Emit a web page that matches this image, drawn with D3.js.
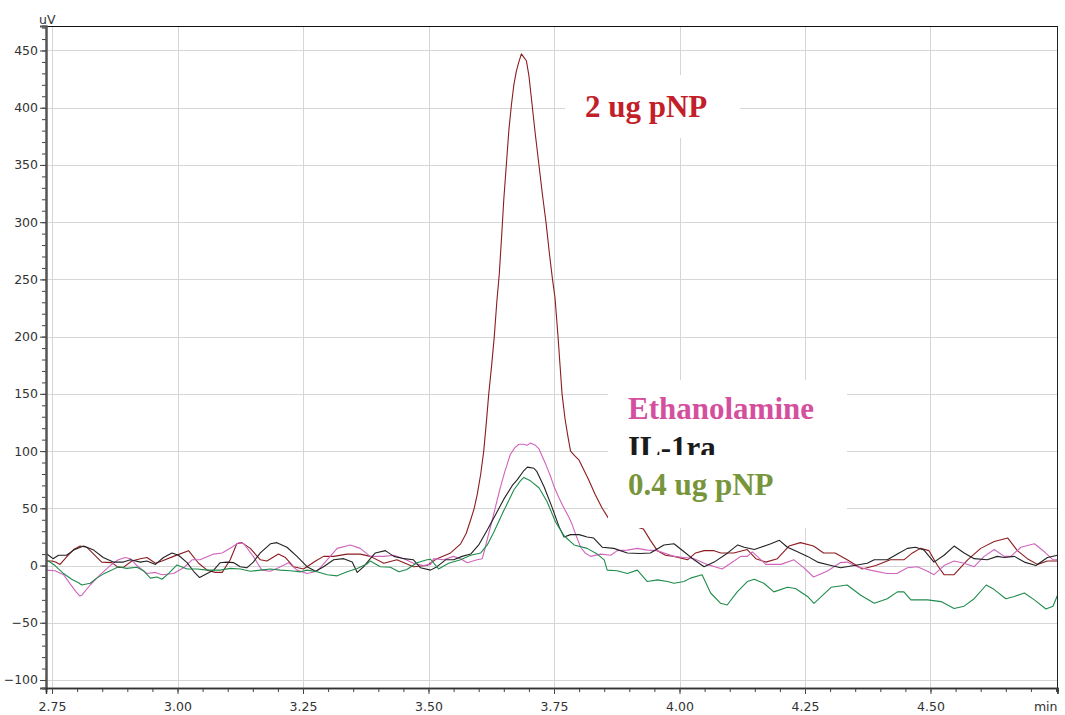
<!DOCTYPE html>
<html>
<head>
<meta charset="utf-8">
<script src="https://cdn.jsdelivr.net/npm/d3@7"></script>
<style>
  body { margin: 0; background: #fff; }
  svg text { font-family: "DejaVu Sans", Verdana, sans-serif; }
</style>
</head>
<body>
<svg id="chart" width="1065" height="715"></svg>
<script>
// Chromatogram traces: [retention time (min), detector signal (uV)]
const pnp2ug = [[2.738,4],[2.750,4],[2.757,3],[2.766,1],[2.780,8],[2.793,14],[2.806,17],[2.819,16],[2.833,10],[2.849,3],[2.869,2.5],[2.882,-1.6],[2.892,-1.6],[2.909,4],[2.926,6],[2.939,7],[2.956,2],[2.969,4],[2.992,8],[3.022,13],[3.042,2],[3.059,-4],[3.075,-6],[3.089,-6],[3.105,5],[3.118,19],[3.128,20],[3.145,15],[3.165,5],[3.178,4],[3.201,10],[3.215,7],[3.231,-1],[3.251,-3],[3.275,4],[3.291,8],[3.311,8],[3.338,10],[3.364,10],[3.384,8],[3.411,2],[3.437,5],[3.470,-1],[3.497,0],[3.517,6],[3.544,11],[3.564,19],[3.575,28],[3.584,40],[3.591,50],[3.597,62],[3.604,80],[3.610,100],[3.615,124],[3.620,150],[3.626,176],[3.631,200],[3.636,230],[3.641,255],[3.646,290],[3.650,320],[3.655,350],[3.660,380],[3.665,402],[3.670,420],[3.675,432],[3.680,440],[3.685,447],[3.690,444],[3.695,441],[3.700,428],[3.707,400],[3.713,376],[3.720,350],[3.727,324],[3.734,300],[3.741,272],[3.747,250],[3.752,234],[3.758,200],[3.762,175],[3.766,150],[3.772,128],[3.778,112],[3.783,100],[3.791,96],[3.800,92],[3.810,83],[3.819,75],[3.832,62],[3.846,50],[3.859,41],[3.880,37],[3.905,35],[3.928,32],[3.942,22],[3.956,13],[3.972,9],[3.989,8],[4.016,5],[4.032,11],[4.049,13],[4.069,13],[4.082,11],[4.108,11],[4.135,14],[4.152,6],[4.172,3],[4.195,6],[4.218,17],[4.241,20],[4.267,17],[4.287,11],[4.310,11],[4.334,5],[4.364,-3],[4.391,0],[4.420,5],[4.447,5],[4.464,11],[4.480,15],[4.497,13],[4.514,0],[4.527,-8],[4.547,-8],[4.574,5],[4.600,15],[4.627,21],[4.654,24],[4.673,13],[4.693,6],[4.713,1],[4.733,4],[4.753,4]];

const ethanolamine = [[2.738,-4],[2.756,-4.5],[2.773,-8],[2.786,-16],[2.798,-23],[2.805,-26.5],[2.809,-26],[2.826,-17],[2.846,-8],[2.866,0],[2.882,5],[2.896,7],[2.906,6],[2.919,0],[2.939,-7],[2.956,-6],[2.969,-8],[2.992,-7],[3.012,-2],[3.029,5],[3.045,5],[3.072,10],[3.089,11],[3.108,16],[3.122,20],[3.132,19],[3.151,8],[3.168,-4],[3.185,-5],[3.201,-2],[3.221,2.5],[3.238,-4],[3.258,-7],[3.278,-5],[3.298,5],[3.318,15],[3.344,18],[3.364,15],[3.384,8],[3.411,8],[3.431,9],[3.451,6],[3.470,2],[3.490,0],[3.504,1],[3.510,6],[3.530,5],[3.550,8],[3.564,6],[3.577,2.5],[3.597,5],[3.607,6],[3.612,14],[3.620,28],[3.627,40],[3.635,54],[3.643,68],[3.652,82],[3.663,97],[3.672,103],[3.680,106],[3.690,106],[3.696,105],[3.703,107],[3.713,105],[3.720,102],[3.733,89],[3.743,78],[3.750,69],[3.760,59],[3.770,50],[3.780,42],[3.786,36],[3.795,25],[3.803,16],[3.812,11],[3.823,8],[3.843,10],[3.863,9],[3.876,13],[3.896,13.5],[3.916,15],[3.936,13.5],[3.956,13],[3.989,8],[4.009,7],[4.029,6],[4.055,1],[4.085,-3],[4.102,2],[4.122,8],[4.135,8],[4.145,12],[4.155,8],[4.172,1],[4.202,1],[4.228,5],[4.248,-2],[4.267,-10],[4.294,-5],[4.320,2.5],[4.334,3],[4.354,-1],[4.380,-4],[4.413,-7],[4.433,-7],[4.454,-2],[4.474,-1],[4.494,-5],[4.507,-8],[4.527,0],[4.547,4],[4.567,2],[4.587,-1],[4.607,8],[4.627,14],[4.647,8],[4.660,8],[4.680,16],[4.707,19],[4.727,12],[4.744,5],[4.753,5]];

const il1ra = [[2.738,11],[2.743,9],[2.752,6],[2.763,9],[2.779,9],[2.793,13.5],[2.813,17],[2.833,13.5],[2.852,7],[2.872,3],[2.892,3],[2.906,5],[2.926,3],[2.939,4],[2.956,1],[2.972,7],[2.989,11],[3.002,9],[3.019,2.5],[3.032,-5],[3.044,-10.5],[3.059,-7],[3.072,-4],[3.085,2.5],[3.098,3],[3.112,2.5],[3.125,-1],[3.138,-2],[3.151,3],[3.165,11],[3.185,19],[3.198,20],[3.218,16],[3.238,8],[3.258,-1],[3.275,-5],[3.291,-1],[3.311,5],[3.331,6],[3.348,3],[3.358,-6],[3.371,-1],[3.384,6],[3.394,11],[3.414,13],[3.431,8],[3.451,6],[3.470,5],[3.484,-2],[3.504,-4],[3.517,-1],[3.534,5],[3.550,5],[3.567,8],[3.584,10],[3.600,18],[3.617,31],[3.633,44],[3.650,58],[3.667,70],[3.677,75],[3.690,83],[3.697,86],[3.710,85],[3.716,82],[3.730,69],[3.746,51],[3.760,34],[3.770,25],[3.783,27],[3.800,27],[3.816,25],[3.829,24],[3.846,16],[3.869,15],[3.896,11],[3.922,10.5],[3.942,11],[3.969,18],[3.989,19],[4.009,12],[4.029,5],[4.049,-1],[4.069,3],[4.096,11],[4.116,18],[4.129,16],[4.149,14],[4.162,16],[4.182,19],[4.199,22],[4.215,16],[4.235,12],[4.255,8],[4.275,3],[4.302,0],[4.321,-2],[4.348,0],[4.374,2],[4.388,5],[4.414,5],[4.434,10],[4.454,15],[4.470,16],[4.487,13.5],[4.507,3],[4.527,9],[4.547,17],[4.567,11],[4.587,6],[4.613,5],[4.633,8],[4.647,7],[4.667,8],[4.687,3],[4.710,0],[4.733,7],[4.753,9]];

const pnp04ug = [[2.738,4],[2.743,4],[2.756,0],[2.773,-7],[2.789,-12],[2.803,-15],[2.809,-17],[2.826,-15.5],[2.839,-11],[2.852,-7.5],[2.869,-4],[2.882,-1],[2.899,-2.5],[2.919,-1.5],[2.932,-4.5],[2.946,-11],[2.959,-10],[2.969,-12],[2.982,-7],[2.999,0.5],[3.019,-3],[3.039,-3],[3.059,-4],[3.085,-4],[3.105,-2.5],[3.125,-3],[3.145,-5],[3.165,-4],[3.185,-3],[3.205,-4],[3.225,-4.5],[3.245,-5.5],[3.258,-4],[3.278,-5.5],[3.298,-8],[3.318,-9],[3.338,-5.5],[3.358,-2.5],[3.378,1.5],[3.384,4],[3.404,-1],[3.424,-1.5],[3.441,-5.5],[3.457,-3.5],[3.477,2.5],[3.497,5],[3.504,5.5],[3.520,-3],[3.540,2],[3.564,5],[3.584,9],[3.604,11],[3.617,18],[3.630,29],[3.650,48],[3.670,66],[3.683,74],[3.690,77],[3.703,74],[3.720,68],[3.736,56],[3.753,38],[3.770,26],[3.790,18],[3.816,15],[3.836,10],[3.850,5],[3.856,-4],[3.876,-4.5],[3.896,-7],[3.916,-4],[3.936,-14],[3.956,-12.5],[3.976,-14],[3.989,-15.5],[4.009,-14],[4.022,-11],[4.045,-8],[4.062,-24],[4.082,-33],[4.095,-34.5],[4.115,-23],[4.135,-14],[4.149,-12],[4.168,-15.5],[4.188,-23],[4.215,-19],[4.231,-20],[4.255,-27],[4.268,-33],[4.285,-26],[4.302,-19],[4.334,-17],[4.361,-26],[4.388,-33],[4.414,-29],[4.434,-23],[4.447,-23],[4.461,-30],[4.494,-30],[4.521,-31.5],[4.547,-37.5],[4.567,-35.5],[4.587,-29],[4.611,-17],[4.627,-21],[4.650,-29],[4.667,-27],[4.687,-24],[4.707,-30],[4.730,-38],[4.744,-35.5],[4.753,-26]];

const seriesNames  = ["2 ug pNP", "Ethanolamine", "IL-1ra", "0.4 ug pNP"];
const lineColors   = ["#8c1c1f", "#d064bd", "#222222", "#1f8c4c"];

const xMajorTicks  = [2.75, 3.00, 3.25, 3.50, 3.75, 4.00, 4.25, 4.50];
const xTickLabels  = ["2.75", "3.00", "3.25", "3.50", "3.75", "4.00", "4.25", "4.50"];
const yMajorTicks  = [-100, -50, 0, 50, 100, 150, 200, 250, 300, 350, 400, 450];
const xUnit = "min";
const yUnit = "uV";

// ---- layout ----
const svg = d3.select("#chart");
const plotLeft = 46, plotRight = 1057.5, plotTop = 26, plotBottom = 688;

const x = d3.scaleLinear().domain([2.738, 4.753]).range([plotLeft, plotRight]);
const y = d3.scaleLinear().domain([-107, 471.4]).range([plotBottom, plotTop]);

const xMinor = d3.range(2.75, 4.7501, 0.05).map(v => +v.toFixed(2));
const yMinor = d3.range(-100, 471, 10);

// grid
const grid = svg.append("g").attr("stroke", "#d6d6d6").attr("stroke-width", 1);
grid.selectAll("line.h").data(yMajorTicks).join("line").attr("class", "h")
  .attr("x1", plotLeft).attr("x2", plotRight)
  .attr("y1", d => Math.round(y(d)) + 0.5).attr("y2", d => Math.round(y(d)) + 0.5);
grid.selectAll("line.v").data(xMajorTicks).join("line").attr("class", "v")
  .attr("y1", plotTop).attr("y2", plotBottom)
  .attr("x1", d => Math.round(x(d)) + 0.5).attr("x2", d => Math.round(x(d)) + 0.5);

// traces
svg.append("clipPath").attr("id", "plot-clip")
  .append("rect").attr("x", plotLeft).attr("y", plotTop)
  .attr("width", plotRight - plotLeft).attr("height", plotBottom - plotTop);

const line = d3.line().x(d => x(d[0])).y(d => y(d[1]));
const traces = [pnp2ug, ethanolamine, il1ra, pnp04ug];
svg.append("g").attr("clip-path", "url(#plot-clip)")
  .selectAll("path").data(traces).join("path")
  .attr("d", line)
  .attr("fill", "none")
  .attr("stroke", (d, i) => lineColors[i])
  .attr("stroke-width", 1.1)
  .attr("stroke-linejoin", "round");

// annotation panels
const serif = "'Liberation Serif', 'Times New Roman', serif";
const ann = svg.append("g");
ann.append("rect").attr("x", 565).attr("y", 75).attr("width", 175).attr("height", 63).attr("fill", "#fff");
ann.append("text").attr("x", 585).attr("y", 117).text(seriesNames[0])
  .style("font-family", serif).style("font-weight", "bold").style("font-size", "31px").attr("fill", "#c21f2b");

ann.append("rect").attr("x", 608).attr("y", 380).attr("width", 239).attr("height", 148).attr("fill", "#fff");
ann.append("text").attr("x", 628).attr("y", 419).text(seriesNames[1])
  .style("font-family", serif).style("font-weight", "bold").style("font-size", "31px").attr("fill", "#d4509e");
ann.append("text").attr("x", 628).attr("y", 458).text(seriesNames[2])
  .style("font-family", serif).style("font-weight", "bold").style("font-size", "31px").attr("fill", "#1a1a1a");
ann.append("rect").attr("x", 608).attr("y", 455).attr("width", 239).attr("height", 73).attr("fill", "#fff");
ann.append("text").attr("x", 628).attr("y", 495).text(seriesNames[3])
  .style("font-family", serif).style("font-weight", "bold").style("font-size", "31px").attr("fill", "#77953b");

// frame
const frame = svg.append("g").attr("fill", "none");
frame.append("line").attr("x1", plotLeft).attr("x2", plotRight)
  .attr("y1", plotTop + 0.5).attr("y2", plotTop + 0.5).attr("stroke", "#111");
frame.append("line").attr("x1", plotRight).attr("x2", plotRight)
  .attr("y1", plotTop).attr("y2", plotBottom).attr("stroke", "#222");

// y axis
const yAxisMinor = d3.axisLeft(y).tickValues(yMinor).tickSize(4).tickFormat("");
const yAxisMajor = d3.axisLeft(y).tickValues(yMajorTicks).tickSize(6).tickPadding(2).tickFormat(d3.format("d"));
const gyMinor = svg.append("g").attr("transform", `translate(${plotLeft},0)`).call(yAxisMinor);
const gy = svg.append("g").attr("transform", `translate(${plotLeft},0)`).call(yAxisMajor);
[gy, gyMinor].forEach(g => {
  g.select(".domain").attr("stroke", "#555").attr("stroke-width", 2);
  g.selectAll(".tick line").attr("stroke", "#444");
});
gy.selectAll(".tick text").attr("fill", "#333")
  .style("font-size", "12.5px").style("font-family", "'DejaVu Sans', sans-serif");

// x axis
const xAxisMinor = d3.axisBottom(x).tickValues(xMinor).tickSize(4).tickFormat("");
const xAxisMajor = d3.axisBottom(x).tickValues(xMajorTicks).tickSize(6)
  .tickFormat((d, i) => xTickLabels[i]);
const gxMinor = svg.append("g").attr("transform", `translate(0,${plotBottom})`).call(xAxisMinor);
const gx = svg.append("g").attr("transform", `translate(0,${plotBottom})`).call(xAxisMajor);
[gx, gxMinor].forEach(g => {
  g.select(".domain").attr("stroke", "#333").attr("stroke-width", 1.5);
  g.selectAll(".tick line").attr("stroke", "#444");
});
gx.selectAll(".tick text").attr("y", 23).attr("dy", 0).attr("fill", "#333")
  .style("font-size", "12.5px").style("font-family", "'DejaVu Sans', sans-serif");

// right-end tick and unit labels
svg.append("line").attr("x1", plotRight).attr("x2", plotRight)
  .attr("y1", plotBottom).attr("y2", plotBottom + 6).attr("stroke", "#444");
svg.append("text").attr("x", plotRight).attr("y", 711).attr("text-anchor", "end")
  .attr("fill", "#333").style("font-size", "12.5px").text(xUnit);
svg.append("text").attr("x", 39).attr("y", 24)
  .attr("fill", "#333").style("font-size", "12.5px").text(yUnit);
</script>
</body>
</html>
